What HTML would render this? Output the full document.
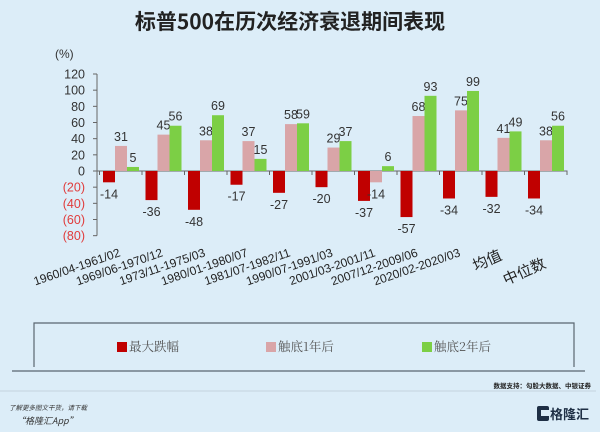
<!DOCTYPE html>
<html><head><meta charset="utf-8"><style>
html,body{margin:0;padding:0;width:600px;height:432px;overflow:hidden;background:#dcedf8;}
svg{display:block;font-family:"Liberation Sans","Noto Sans CJK SC",sans-serif;}
</style></head><body>
<svg id="c" width="600" height="432" viewBox="0 0 600 432">
<rect x="0" y="0" width="600" height="432" fill="#dcedf8"/>
<text x="290" y="29" text-anchor="middle" font-size="21" font-weight="bold" fill="#222" font-family="'Noto Sans CJK SC',sans-serif">标普500在历次经济衰退期间表现</text>
<text x="55" y="58" font-size="12" fill="#333">(%)</text>
<g id="ax"></g>
<g id="bars"></g>
<path d="M34 367 V323 H574 V367" fill="none" stroke="#5a6670" stroke-width="1.2"/>
<line x1="12" y1="371" x2="585" y2="371" stroke="#5a6670" stroke-width="1.3"/>
<g><rect x="117" y="342" width="10" height="10" fill="#c00000"/><text x="129" y="351" font-size="12.5" fill="#555" font-family="'Noto Serif CJK SC',serif">最大跌幅</text></g>
<g><rect x="266" y="342" width="10" height="10" fill="#d9a5a8"/><text x="278" y="351" font-size="12.5" fill="#555" font-family="'Noto Serif CJK SC',serif">触底1年后</text></g>
<g><rect x="422" y="342" width="10" height="10" fill="#7ccf45"/><text x="434" y="351" font-size="12.5" fill="#555" font-family="'Noto Serif CJK SC',serif">触底2年后</text></g>
<text x="591" y="388" font-size="6.5" fill="#222" text-anchor="end" font-weight="bold" font-family="'Noto Sans CJK SC',sans-serif">数据支持：勾股大数据、中银证券</text>
<line x1="0" y1="391" x2="596" y2="391" stroke="#c4d4de" stroke-width="1"/>
<text x="9" y="410" font-size="6.5" fill="#333" font-style="italic" font-family="'Noto Sans CJK SC',sans-serif">了解更多图文干货，请下载</text>
<text x="16" y="424" font-size="9" fill="#333" font-style="italic" font-family="'Noto Sans CJK SC',sans-serif">“格隆汇App”</text>
<g><rect x="537" y="406" width="12" height="15" rx="2" fill="#1e2f45"/><rect x="541" y="410" width="8" height="6" fill="#dcedf8"/><text x="550" y="419" font-size="13" fill="#1e2f45" font-weight="bold" font-family="'Noto Sans CJK SC',sans-serif">格隆汇</text></g>
</svg>
<script>
const categories=["1960/04-1961/02","1969/06-1970/12","1973/11-1975/03","1980/01-1980/07","1981/07-1982/11","1990/07-1991/03","2001/03-2001/11","2007/12-2009/06","2020/02-2020/03","均值","中位数"];
const maxDrop=[-14,-36,-48,-17,-27,-20,-37,-57,-34,-32,-34];
const after1y=[31,45,38,37,58,29,-14,68,75,41,38];
const after2y=[5,56,69,15,59,37,6,93,99,49,56];
const yTicks=[120,100,80,60,40,20,0,-20,-40,-60,-80];
const yTickLabels=["120","100","80","60","40","20","0","(20)","(40)","(60)","(80)"];
const NS="http://www.w3.org/2000/svg";
const y0=171,pxPer=97/120;
function y(v){return y0-v*pxPer;}
function gx(i){return 103+i*42.5;}
const bw=12;
function mk(tag,attrs,parent,txt){const e=document.createElementNS(NS,tag);for(const k in attrs)e.setAttribute(k,attrs[k]);if(txt!==undefined)e.textContent=txt;parent.appendChild(e);return e;}
const ax=document.getElementById('ax'),bars=document.getElementById('bars');
const yl=mk('line',{x1:97,y1:y(120),x2:97,y2:y(-80),stroke:'#666','stroke-width':1},ax);


yTicks.forEach((t,i)=>{
  const tk=mk('line',{x1:93,y1:y(t),x2:97,y2:y(t),stroke:'#666'},ax);
  
  
  const lb=mk('text',{x:85,y:y(t)+4.5,'text-anchor':'end','font-size':12.5,fill:t<0?'#e03c3c':'#333'},ax,yTickLabels[i]);
  
  
});
const xEnd=gx(categories.length)-3;
const xl=mk('line',{x1:97,y1:y0,x2:xEnd,y2:y0,stroke:'#666','stroke-width':1},ax);


for(let i=0;i<=categories.length;i++){
  const tk=mk('line',{x1:gx(i)-3.5,y1:y0,x2:gx(i)-3.5,y2:y0+4,stroke:'#666'},ax);
  
  
}
const series=[[maxDrop,'#c00000','max-drop'],[after1y,'#d9a5a8','after-1yr'],[after2y,'#7ccf45','after-2yr']];
categories.forEach((c,i)=>{
  series.forEach((s,j)=>{
    const v=s[0][i],x=gx(i)+j*bw;
    const r=mk('rect',{x:x,y:Math.min(y(v),y0),width:bw,height:Math.abs(y(v)-y0),fill:s[1]},bars);
    
    
    const ly=v<0?y(v)+16:y(v)-5;
    const t=mk('text',{x:x+bw/2,y:ly,'text-anchor':'middle','font-size':12.5,fill:'#333'},bars,String(v));
    
    
  });
  const isCJK=i>=9;
  let lx,lyy,ang;
  if(!isCJK){lx=gx(i)+18;lyy=256;ang=-19;}
  else if(i===9){lx=503;lyy=259;ang=-24;}
  else{lx=547;lyy=267;ang=-24;}
  const t=mk('text',{x:lx,y:lyy,'text-anchor':'end','font-size':isCJK?15:12,fill:'#222',transform:'rotate('+ang+' '+lx+' '+lyy+')'},ax,c);
  
  
});
</script>
</body></html>
